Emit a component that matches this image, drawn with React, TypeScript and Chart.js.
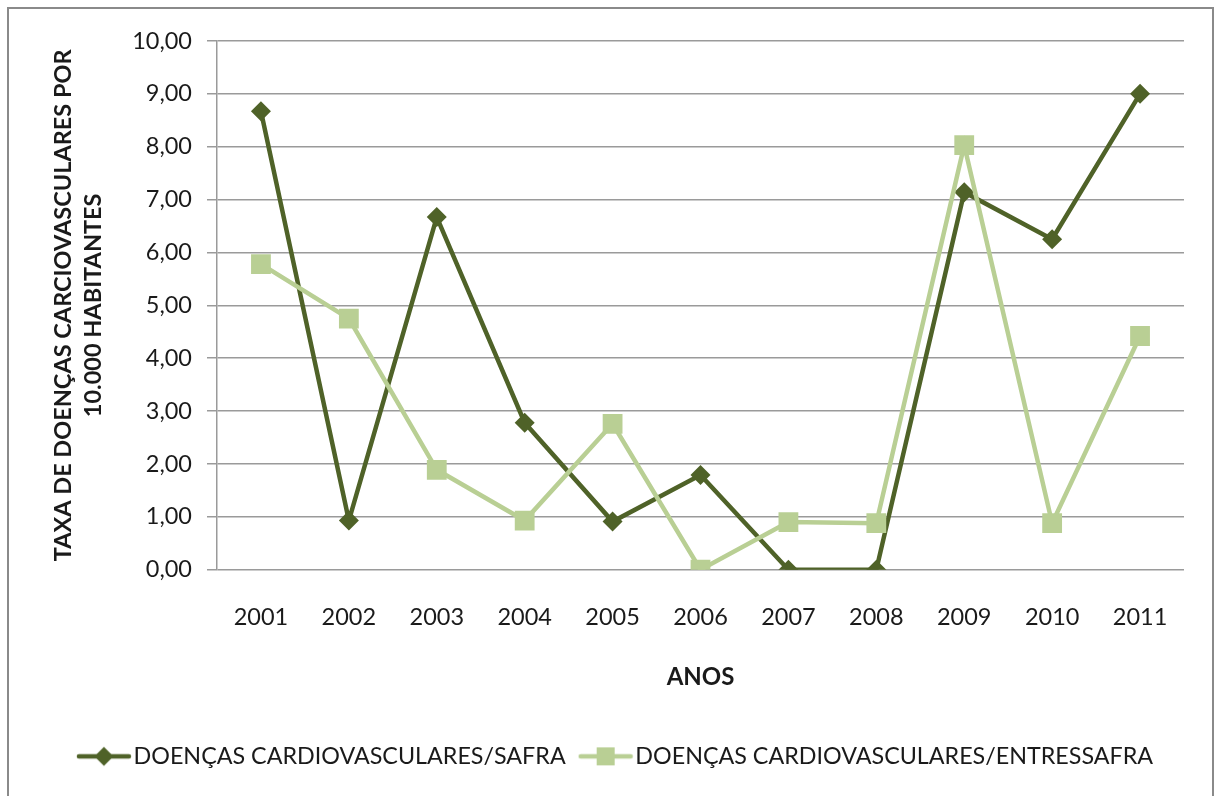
import React, { useEffect, useRef } from "react";
import { Chart, registerables } from "chart.js";

Chart.register(...registerables);

const years = ["2001", "2002", "2003", "2004", "2005", "2006", "2007", "2008", "2009", "2010", "2011"];
const safra = [8.67, 0.93, 6.67, 2.78, 0.91, 1.79, 0, 0, 7.14, 6.25, 9.0];
const entressafra = [5.78, 4.75, 1.89, 0.93, 2.76, 0, 0.9, 0.88, 8.03, 0.88, 4.42];
const yTickLabels = ["0,00", "1,00", "2,00", "3,00", "4,00", "5,00", "6,00", "7,00", "8,00", "9,00", "10,00"];

const seriesNames = ["DOENÇAS CARDIOVASCULARES/SAFRA", "DOENÇAS CARDIOVASCULARES/ENTRESSAFRA"];
const yTitle = ["TAXA DE DOENÇAS CARCIOVASCULARES POR", "10.000 HABITANTES"];
const xTitle = "ANOS";

const DARK = "#4F6228";
const LIGHT = "#B9CF94";
const GRID = "#9a9a9a";
const TEXT = "#1a1a1a";
const FONT = "Lato";

function legendIcon(color: string, kind: "diamond" | "square"): HTMLCanvasElement {
  const c = document.createElement("canvas");
  c.width = 56;
  c.height = 22;
  const ctx = c.getContext("2d")!;
  ctx.strokeStyle = color;
  ctx.lineWidth = 4.5;
  ctx.lineCap = "round";
  ctx.beginPath();
  ctx.moveTo(3, 11);
  ctx.lineTo(53, 11);
  ctx.stroke();
  ctx.fillStyle = color;
  ctx.beginPath();
  if (kind === "diamond") {
    ctx.moveTo(28, 1.5);
    ctx.lineTo(37.5, 11);
    ctx.lineTo(28, 20.5);
    ctx.lineTo(18.5, 11);
    ctx.closePath();
  } else {
    ctx.rect(19, 2, 18, 18);
  }
  ctx.fill();
  return c;
}

const shiftLegend = {
  id: "shiftLegend",
  afterLayout(chart: any) {
    if (chart.legend) {
      chart.legend.left += 23;
      chart.legend.right += 23;
    }
  },
};

export default function App() {
  const ref = useRef<HTMLCanvasElement | null>(null);

  useEffect(() => {
    if (!ref.current) return;
    const icons = [legendIcon(DARK, "diamond"), legendIcon(LIGHT, "square")];
    const chart = new Chart(ref.current, {
      type: "line",
      data: {
        labels: years,
        datasets: [
          {
            label: seriesNames[1],
            data: entressafra,
            borderColor: LIGHT,
            backgroundColor: LIGHT,
            borderWidth: 4.5,
            tension: 0,
            pointStyle: "rect",
            pointRadius: 14,
            pointBorderWidth: 0,
            pointBackgroundColor: LIGHT,
            pointHoverRadius: 14,
            order: 1,
          },
          {
            label: seriesNames[0],
            data: safra,
            borderColor: DARK,
            backgroundColor: DARK,
            borderWidth: 4.5,
            tension: 0,
            pointStyle: "rectRot",
            pointRadius: 10,
            pointBorderWidth: 0,
            pointBackgroundColor: DARK,
            pointHoverRadius: 10,
            order: 2,
          },
        ],
      },
      plugins: [shiftLegend],
      options: {
        animation: false,
        responsive: false,
        maintainAspectRatio: false,
        layout: { padding: { left: 0, right: 28, top: 32, bottom: 18 } },
        font: { family: FONT },
        plugins: {
          tooltip: { enabled: false },
          legend: {
            position: "bottom",
            labels: {
              usePointStyle: true,
              pointStyleWidth: 36,
              padding: 22,
              color: TEXT,
              font: { family: FONT, size: 23.3 },
              generateLabels: () => [
                { text: seriesNames[0], pointStyle: icons[0], fillStyle: DARK, strokeStyle: DARK, lineWidth: 0, datasetIndex: 1, hidden: false, fontColor: TEXT },
                { text: seriesNames[1], pointStyle: icons[1], fillStyle: LIGHT, strokeStyle: LIGHT, lineWidth: 0, datasetIndex: 0, hidden: false, fontColor: TEXT },
              ] as any,
            },
          },
        },
        scales: {
          x: {
            type: "category",
            offset: true,
            grid: { display: false, drawTicks: false },
            border: { display: false },
            ticks: { color: TEXT, padding: 34, font: { family: FONT, size: 23.5 }, maxRotation: 0, autoSkip: false },
            title: { display: true, text: xTitle, color: TEXT, font: { family: FONT, size: 24, weight: "bold" }, padding: { top: 0, bottom: 31 } },
            afterFit: (s: any) => { s.height = 153; },
          },
          y: {
            min: 0,
            max: 10,
            grid: { color: GRID, lineWidth: 1.5, drawTicks: true, tickLength: 10 },
            border: { display: true, color: GRID, width: 1.5 },
            ticks: {
              stepSize: 1,
              color: TEXT,
              padding: 15,
              font: { family: FONT, size: 23.5 },
              callback: (_v: any, i: number) => yTickLabels[i],
            },
            title: { display: true, text: yTitle, color: TEXT, font: { family: FONT, size: 23.5, weight: "bold", lineHeight: 1.25 }, padding: { top: 40, bottom: 0 } },
            afterFit: (s: any) => { s.width = 208; },
          },
        },
      } as any,
    });
    return () => chart.destroy();
  }, []);

  return (
    <div
      style={{
        position: "absolute",
        left: 7,
        top: 7,
        width: 1207,
        height: 800,
        border: "2px solid #8a8a8a",
        boxSizing: "border-box",
        background: "#fff",
      }}
    >
      <canvas ref={ref} width={1203} height={787} style={{ display: "block", width: 1203, height: 787 }} />
    </div>
  );
}
